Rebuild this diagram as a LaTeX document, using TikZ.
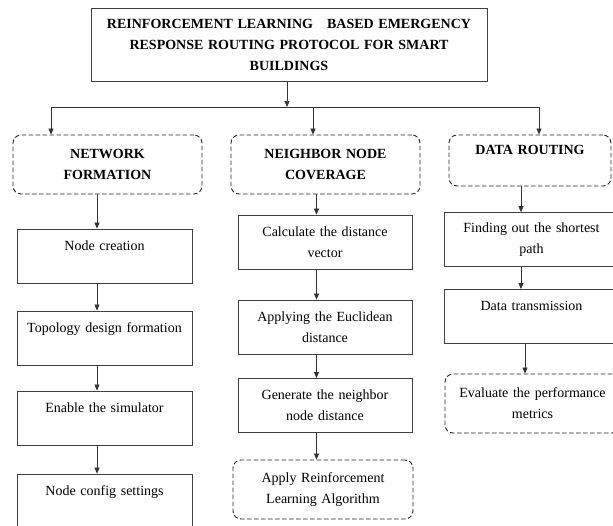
\documentclass[tikz,border=0pt]{standalone}
\usepackage{fontspec}
\setmainfont{Liberation Serif}
\usetikzlibrary{positioning, arrows.meta, calc}

\begin{document}
\begin{tikzpicture}[x=1pt, y=-1pt,
    every node/.style={font=\fontsize{14}{21}\selectfont, align=center, inner xsep=3pt, inner ysep=0pt},
    solidbox/.style={rectangle, draw=black!75, line width=0.8pt, minimum height=54pt},
    dashbox/.style={rectangle, rounded corners=8pt, draw=black!85, line width=0.9pt, dash pattern=on 4.5pt off 2.5pt},
    headbox/.style={dashbox, font=\bfseries\fontsize{14}{21}\selectfont, minimum height=59pt},
    link/.style={-{Triangle[length=6pt, width=5pt]}, draw=black!80, line width=0.7pt}]
        \useasboundingbox (0,0) rectangle (613,525);

        % Title node
        \node[solidbox, text width=390pt, minimum height=73pt, font=\bfseries\fontsize{14}{21}\selectfont] (title) at (289,44.5) {REINFORCEMENT LEARNING~~~BASED EMERGENCY\\RESPONSE ROUTING PROTOCOL FOR SMART\\BUILDINGS};

        % Stage nodes
        \node[headbox, text width=183pt] (netform) at (107.5,164.5) {NETWORK\\FORMATION};
        \node[headbox, text width=183pt] (neighcov) at (325.5,164.5) {NEIGHBOR NODE\\COVERAGE};
        \node[headbox, text width=156pt, minimum height=51pt] (datarout) at (530,160.5) {DATA ROUTING\\\mbox{}};

        % Network formation steps
        \node[solidbox, text width=169pt] (nodecreate) at (104.5,256) {Node creation\\\mbox{}};
        \node[solidbox, text width=169pt] (topology) at (104.5,338) {Topology design formation\\\mbox{}};
        \node[solidbox, text width=169pt] (simulator) at (104.5,418) {Enable the simulator\\\mbox{}};
        \node[solidbox, text width=169pt] (config) at (104.5,501) {Node config settings\\\mbox{}};

        % Neighbor node coverage steps
        \node[solidbox, text width=168pt] (distvec) at (325,242) {Calculate the distance\\vector};
        \node[solidbox, text width=168pt] (euclid) at (325,327) {Applying the Euclidean\\distance};
        \node[solidbox, text width=168pt] (neighdist) at (325,405.5) {Generate the neighbor\\node distance};
        \node[dashbox, text width=174pt, minimum height=59pt] (rlalgo) at (323,489.5) {Apply Reinforcement\\Learning Algorithm};

        % Data routing steps
        \node[solidbox, text width=169pt] (shortest) at (531.5,239.5) {Finding out the shortest\\path};
        \node[solidbox, text width=169pt] (transmit) at (531.5,316.5) {Data transmission\\\mbox{}};
        \node[dashbox, text width=169pt, minimum height=59pt] (evaluate) at (532.5,403.5) {Evaluate the performance\\metrics};

        % Branch points
        \coordinate (split) at (287,107);
        \coordinate (branchL) at (51,107);
        \coordinate (branchM) at (313,107);
        \coordinate (branchR) at (539,107);
        \coordinate (colL) at (97,0);
        \coordinate (colM) at (316.5,0);
        \coordinate (colR) at (521,0);
        \coordinate (colE) at (525,0);

        % Arrows from title
        \draw[link] (title.south -| split) -- (split);
        \draw[draw=black!80, line width=0.7pt] (branchL) -- (branchR);
        \draw[link] (branchL) -- (netform.north -| branchL);
        \draw[link] (branchM) -- (neighcov.north -| branchM);
        \draw[link] (branchR) -- (datarout.north -| branchR);

        % Arrows down each column
        \draw[link] (netform.south -| colL) -- (nodecreate.north -| colL);
        \draw[link] (nodecreate.south -| colL) -- (topology.north -| colL);
        \draw[link] (topology.south -| colL) -- (simulator.north -| colL);
        \draw[link] (simulator.south -| colL) -- (config.north -| colL);
        \draw[link] (neighcov.south -| colM) -- (distvec.north -| colM);
        \draw[link] (distvec.south -| colM) -- (euclid.north -| colM);
        \draw[link] (euclid.south -| colM) -- (neighdist.north -| colM);
        \draw[link] (neighdist.south -| colM) -- (rlalgo.north -| colM);
        \draw[link] (datarout.south -| colR) -- (shortest.north -| colR);
        \draw[link] (shortest.south -| colR) -- (transmit.north -| colR);
        \draw[link] (transmit.south -| colE) -- (evaluate.north -| colE);
    \end{tikzpicture}
\end{document}
